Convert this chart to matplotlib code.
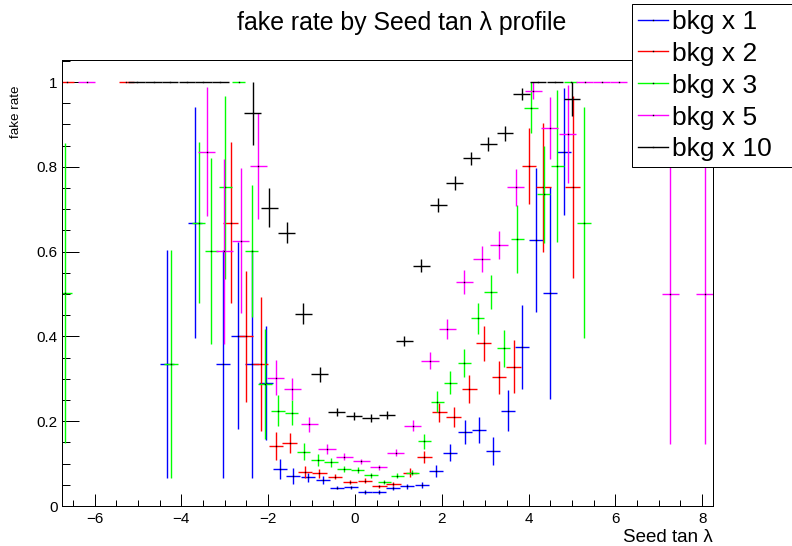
import matplotlib
matplotlib.use("Agg")
import matplotlib.pyplot as plt
from matplotlib.lines import Line2D
from matplotlib.ticker import MultipleLocator, FuncFormatter

plt.rcParams["font.family"] = ["Liberation Sans", "DejaVu Sans"]

# bkg x 1 (blue)
x1 = [-4.33, -3.68, -3.03, -2.70, -2.38, -2.05, -1.73, -1.42, -1.08, -0.74, -0.42, -0.10, 0.23,
      0.55, 0.88, 1.21, 1.55, 1.87, 2.20, 2.53, 2.86, 3.19, 3.52, 3.85, 4.17, 4.50, 4.82]
y1 = [0.335, 0.668, 0.335, 0.402, 0.335, 0.29, 0.087, 0.071, 0.068, 0.061, 0.043, 0.044, 0.033,
      0.033, 0.042, 0.047, 0.050, 0.083, 0.126, 0.174, 0.180, 0.130, 0.225, 0.376, 0.627, 0.502, 0.836]
e1 = [0.27, 0.272, 0.27, 0.22, 0.27, 0.135, 0.023, 0.018, 0.011, 0.009, 0.004, 0.004, 0.004,
      0.004, 0.005, 0.006, 0.007, 0.014, 0.02, 0.028, 0.031, 0.033, 0.048, 0.099, 0.17, 0.25, 0.15]

# bkg x 2 (red)
x2 = [-6.64, -5.27, -2.86, -2.51, -2.17, -1.82, -1.50, -1.15, -0.82, -0.46, -0.115, 0.23, 0.56,
      0.88, 1.27, 1.60, 1.94, 2.28, 2.63, 2.97, 3.32, 3.66, 4.01, 4.34, 5.02]
y2 = [1.0, 1.0, 0.668, 0.40, 0.335, 0.142, 0.149, 0.081, 0.077, 0.069, 0.057, 0.060, 0.046,
      0.052, 0.079, 0.116, 0.221, 0.210, 0.276, 0.384, 0.304, 0.329, 0.802, 0.752, 0.752]
e2 = [0.0, 0.0, 0.19, 0.155, 0.157, 0.033, 0.024, 0.014, 0.011, 0.006, 0.005, 0.005, 0.004,
      0.005, 0.01, 0.014, 0.022, 0.024, 0.032, 0.041, 0.039, 0.063, 0.089, 0.152, 0.215]

# bkg x 3 (green)
x3 = [-6.68, -4.24, -3.60, -3.31, -2.99, -2.68, -2.38, -2.07, -1.77, -1.46, -1.18, -0.86, -0.55,
      -0.25, 0.06, 0.37, 0.68, 0.98, 1.32, 1.60, 1.90, 2.20, 2.52, 2.83, 3.13, 3.43, 3.74, 4.06,
      4.35, 4.66, 4.97, 5.28]
y3 = [0.502, 0.335, 0.668, 0.601, 0.752, 1.0, 0.601, 0.288, 0.225, 0.22, 0.128, 0.108, 0.103,
      0.087, 0.085, 0.073, 0.057, 0.071, 0.079, 0.153, 0.246, 0.291, 0.337, 0.443, 0.505, 0.372,
      0.63, 0.939, 0.735, 0.802, 1.0, 0.668]
e3 = [0.354, 0.27, 0.19, 0.22, 0.216, 0.0, 0.155, 0.13, 0.037, 0.029, 0.02, 0.014, 0.01,
      0.007, 0.007, 0.006, 0.005, 0.006, 0.007, 0.018, 0.025, 0.027, 0.033, 0.037, 0.041, 0.044,
      0.081, 0.06, 0.114, 0.179, 0.0, 0.272]

# bkg x 5 (magenta)
x5 = [-6.18, -3.42, -3.01, -2.63, -2.23, -1.83, -1.44, -1.05, -0.645, -0.25, 0.15, 0.55, 0.94,
      1.33, 1.73, 2.13, 2.52, 2.92, 3.32, 3.70, 4.11, 4.49, 4.90, 5.29, 5.69, 6.08, 7.27, 8.06]
y5 = [1.0, 0.836, 0.601, 0.626, 0.802, 0.303, 0.276, 0.193, 0.134, 0.116, 0.105, 0.091, 0.126,
      0.189, 0.343, 0.417, 0.529, 0.582, 0.615, 0.752, 0.979, 0.891, 0.877, 1.0, 1.0, 1.0, 0.5, 0.5]
e5 = [0.0, 0.152, 0.218, 0.171, 0.126, 0.042, 0.026, 0.018, 0.012, 0.008, 0.006, 0.006, 0.008,
      0.013, 0.02, 0.024, 0.028, 0.031, 0.033, 0.044, 0.02, 0.073, 0.116, 0.0, 0.0, 0.0, 0.354, 0.354]

# bkg x 10 (black)
x10 = [-5.03, -4.64, -4.26, -3.87, -3.49, -3.10, -2.36, -1.97, -1.57, -1.19, -0.81, -0.42, -0.02,
       0.36, 0.74, 1.14, 1.53, 1.92, 2.30, 2.68, 3.07, 3.46, 3.84, 4.22, 4.61, 5.00]
y10 = [1.0, 1.0, 1.0, 1.0, 1.0, 1.0, 0.926, 0.704, 0.645, 0.454, 0.311, 0.222, 0.213,
       0.207, 0.215, 0.389, 0.567, 0.71, 0.762, 0.82, 0.854, 0.879, 0.971, 1.0, 1.0, 0.961]
e10 = [0.0, 0.0, 0.0, 0.0, 0.0, 0.0, 0.074, 0.047, 0.024, 0.024, 0.018, 0.01, 0.009,
       0.009, 0.009, 0.012, 0.016, 0.016, 0.017, 0.016, 0.016, 0.017, 0.014, 0.0, 0.0, 0.04]

labels = ["bkg x 1", "bkg x 2", "bkg x 3", "bkg x 5", "bkg x 10"]
colors = ["#0000ff", "#ff0000", "#00ff00", "#ff00ff", "#000000"]
halfw = [0.162, 0.171, 0.154, 0.198, 0.193]  # half bin widths per sample
series = [(x1, y1, e1), (x2, y2, e2), (x3, y3, e3), (x5, y5, e5), (x10, y10, e10)]

lw = 0.72   # 1 px frame/ticks
elw = 1.0   # error bars a bit heavier, like the antialiased ROOT output
fig = plt.figure(figsize=(7.92, 5.46), dpi=100)
ax = fig.add_axes([62 / 792, 40 / 546, 651 / 792, 446 / 546])

for (xs, ys, es), c, hw in zip(series, colors, halfw):
    ax.errorbar(xs, ys, yerr=es, xerr=hw, fmt="none", ecolor=c, elinewidth=elw, capsize=0)
    ax.plot(xs, ys, ls="none", marker="s", ms=1.0, mew=0, color="k")

ax.set_xlim(-6.75, 8.25)
ax.set_ylim(0, 1.052)
ax.xaxis.set_major_locator(MultipleLocator(2))
ax.xaxis.set_minor_locator(MultipleLocator(0.5))
ax.yaxis.set_major_locator(MultipleLocator(0.2))
ax.yaxis.set_minor_locator(MultipleLocator(0.05))
ax.yaxis.set_major_formatter(FuncFormatter(lambda v, p: f"{v:g}"))
ax.tick_params(which="both", direction="in", top=False, right=False, width=lw, labelsize=11)
ax.tick_params(axis="x", which="major", length=9, pad=4)
ax.tick_params(axis="x", which="minor", length=4.5)
ax.tick_params(axis="y", which="major", length=12, pad=3)
ax.tick_params(axis="y", which="minor", length=5.5)
for s in ax.spines.values():
    s.set_linewidth(lw)

fig.text(402 / 792, 1 - 23 / 546, "fake rate by Seed tan λ profile", ha="center", va="center", fontsize=17.9)
fig.text(16 / 792, 1 - 86 / 546, "fake rate", rotation=90, ha="center", va="top", fontsize=9.6)
fig.text(713 / 792, 1 - 537 / 546, "Seed tan λ", ha="right", va="center", fontsize=13.5)

# legend box runs past the right edge of the canvas, as in the ROOT output
handles = [Line2D([], [], color=c, lw=elw, marker="s", ms=1.0, mew=0, mfc="k") for c in colors]
leg = fig.legend(handles, labels, loc="upper left", mode="expand",
                 bbox_to_anchor=(632 / 792, 0, 175 / 792, 1 - 4 / 546),
                 fontsize=19, frameon=True, fancybox=False, edgecolor="k", framealpha=1,
                 borderpad=0.22, labelspacing=0.3, handlelength=1.15, handletextpad=0.15,
                 borderaxespad=0)
leg.get_frame().set_linewidth(lw)

fig.savefig("out.png", dpi=100)
